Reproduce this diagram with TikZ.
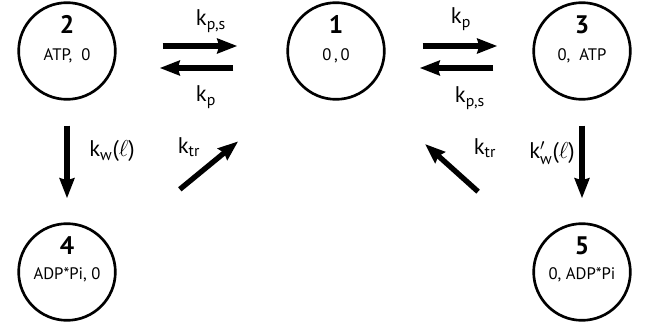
\documentclass[tikz,border=0pt]{standalone}
\usepackage{amsmath}
\usepackage{fontspec}
\setmainfont{PT Sans}
\usetikzlibrary{arrows.meta}

\tikzset{
  state/.style={draw,circle,line width=2pt,minimum size=72.5pt,inner sep=0pt},
  statenum/.style={font=\bfseries\fontsize{19}{21}\selectfont},
  statetext/.style={font=\fontsize{12.5}{14}\selectfont},
  rate/.style={line width=4pt,-{Stealth[length=15pt,width=11pt,inset=1.5pt]}},
  ratelabel/.style={font=\fontsize{17}{19}\selectfont}
}

\begin{document}
\begin{tikzpicture}[x=0.75pt,y=-0.75pt]
\useasboundingbox (0,0) rectangle (645,328);

% states
\node[state] (n2) at (67,51) {};
\node[state] (n1) at (336,51) {};
\node[state] (n3) at (582,51) {};
\node[state] (n4) at (67,272) {};
\node[state] (n5) at (582,272) {};

\node[statenum] (n2num) at ([yshift=20pt]n2.center) {2};
\node[statenum] (n1num) at ([yshift=20pt]n1.center) {1};
\node[statenum] (n3num) at ([yshift=20pt]n3.center) {3};
\node[statenum] (n4num) at ([yshift=20pt]n4.center) {4};
\node[statenum] (n5num) at ([yshift=20pt]n5.center) {5};

\node[statetext] (n2txt) at ([yshift=-3.5pt]n2.center) {ATP,\ \ 0};
\node[statetext] (n1txt) at ([yshift=-3.5pt]n1.center) {0\,,\,0};
\node[statetext] (n3txt) at ([yshift=-3.5pt]n3.center) {0,\ \ ATP};
\node[statetext] (n4txt) at ([yshift=-2pt]n4.center) {ADP*Pi, 0};
\node[statetext] (n5txt) at ([yshift=-2pt]n5.center) {0, ADP*Pi};

% transitions
\draw[rate,shorten <=34.5pt,shorten >=36.75pt] ([yshift=3.75pt]n2.east) -- ([yshift=3.75pt]n1.west);
\draw[rate,shorten <=39.75pt,shorten >=32.25pt] ([yshift=-12.75pt]n1.west) -- ([yshift=-12.75pt]n2.east);
\draw[rate,shorten <=27.75pt,shorten >=26.25pt] ([yshift=3.75pt]n1.east) -- ([yshift=3.75pt]n3.west);
\draw[rate,shorten <=29.25pt,shorten >=25.5pt] ([yshift=-12.75pt]n3.west) -- ([yshift=-12.75pt]n1.east);
\draw[rate,shorten <=18.75pt,shorten >=18pt] (n2.south) -- (n4.north);
\draw[rate,shorten <=18.75pt,shorten >=18pt] (n3.south) -- (n5.north);
\draw[rate,shorten <=109.5pt,shorten >=95pt] ([yshift=-7.5pt]n4.center) -- ([yshift=-7.5pt]n1.center);
\draw[rate,shorten <=104.8pt,shorten >=89.8pt] ([yshift=-9.75pt]n5.center) -- ([yshift=-9.75pt]n1.center);

% rate labels
\node[ratelabel] (kps1) at (211,21) {k$_{\text{p,s}}$};
\node[ratelabel] (kp1) at (206,97) {k$_{\text{p}}$};
\node[ratelabel] (kp2) at (461,19) {k$_{\text{p}}$};
\node[ratelabel] (kps2) at (470,98) {k$_{\text{p,s}}$};
\node[ratelabel] (kw) at (112,151) {k$_{\text{w}}$($\ell$)};
\node[ratelabel] (kw2) at (552,153) {k$'_{\text{w}}$($\ell$)};
\node[ratelabel] (ktr1) at (189,147) {k$_{\text{tr}}$};
\node[ratelabel] (ktr2) at (485,148) {k$_{\text{tr}}$};
\end{tikzpicture}
\end{document}
